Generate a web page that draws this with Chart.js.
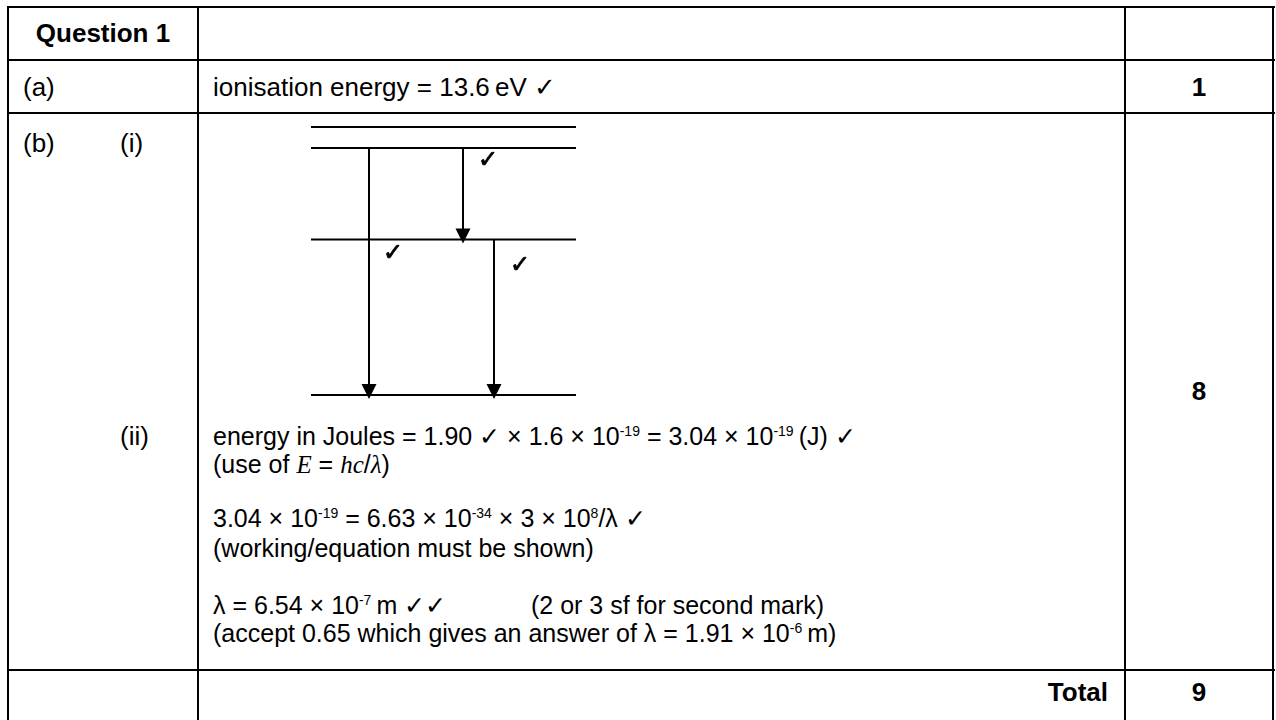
<!DOCTYPE html>
<html>
<head>
<meta charset="utf-8">
<script src="https://cdn.jsdelivr.net/npm/chart.js@4.4.1/dist/chart.umd.min.js"></script>
<style>
  html,body{margin:0;padding:0;background:#fff;}
  body{width:1276px;height:720px;position:relative;overflow:hidden;
       font-family:"Liberation Sans",Arial,sans-serif;font-size:26px;color:#000;}
  .h{position:absolute;height:2px;background:#000;}
  .v{position:absolute;width:2px;background:#000;}
  .t{position:absolute;white-space:nowrap;line-height:30px;height:30px;}
  .p{position:absolute;white-space:pre;font-size:25px;tab-size:318px;-moz-tab-size:318px;}
  .b{font-weight:bold;}
  .c{text-align:center;}
  sup{font-size:14px;vertical-align:0;position:relative;top:-9px;line-height:0;}
  .m{font-family:"Liberation Serif","Times New Roman",serif;font-style:italic;}
  #diagram{position:absolute;left:301px;top:117px;width:285px;height:288px;}
</style>
</head>
<body>
<script>
// ---- energy-level diagram data (relative heights) ----
const levelNames   = ['n1', 'n2', 'n3', 'n4'];
const levelEnergy  = [0, 156, 248, 269];          // height of each level line
const levelSpan    = [0, 265];                    // horizontal extent of the level lines
const transFrom    = [2, 2, 1];                   // index into levelEnergy
const transTo      = [0, 1, 0];
const transX       = [58, 152, 183];              // horizontal place of each arrow
const markText     = ['✓', '✓', '✓'];             // tick beside each arrow
const markX        = [82, 177, 209];
const markY        = [142, 235, 130];
</script>

<!-- table grid -->
<div class="h" style="left:7px;top:6px;width:1268px"></div>
<div class="h" style="left:7px;top:59px;width:1268px"></div>
<div class="h" style="left:7px;top:112px;width:1268px"></div>
<div class="h" style="left:7px;top:669px;width:1268px"></div>
<div class="h" style="left:7px;top:721px;width:1268px"></div>
<div class="v" style="left:7px;top:6px;height:720px"></div>
<div class="v" style="left:197px;top:6px;height:720px"></div>
<div class="v" style="left:1124px;top:6px;height:720px"></div>
<div class="v" style="left:1272px;top:6px;height:720px"></div>

<!-- column 1 -->
<div class="t b c" style="left:9px;width:188px;top:18px">Question 1</div>
<div class="t" style="left:23px;top:72px">(a)</div>
<div class="t" style="left:23px;top:128px">(b)</div>
<div class="t" style="left:120px;top:128px">(i)</div>
<div class="t" style="left:120px;top:421px">(ii)</div>

<!-- column 2 -->
<div class="t" style="left:213px;top:72px">ionisation energy = 13.6&#8201;eV ✓</div>
<div class="p" style="left:213px;top:422px;line-height:28px">energy in Joules = 1.90 ✓ × 1.6 × 10<sup>-19</sup> = 3.04 × 10<sup>-19</sup>&#8201;(J) ✓<br>(use of <span class="m">E</span> = <span class="m">hc</span>/<span class="m">λ</span>)</div>
<div class="p" style="left:213px;top:503px;line-height:30px">3.04 × 10<sup>-19</sup> = 6.63 × 10<sup>-34</sup> × 3 × 10<sup>8</sup>/λ ✓<br>(working/equation must be shown)</div>
<div class="p" style="left:213px;top:591px;line-height:28px">λ = 6.54 × 10<sup>-7</sup>&#8201;m ✓✓&#9;(2 or 3 sf for second mark)<br>(accept 0.65 which gives an answer of λ = 1.91 × 10<sup>-6</sup>&#8201;m)</div>
<div class="t b" style="left:860px;width:248px;text-align:right;top:677px">Total</div>

<!-- column 3 -->
<div class="t b c" style="left:1126px;width:146px;top:72px">1</div>
<div class="t b c" style="left:1126px;width:146px;top:376px">8</div>
<div class="t b c" style="left:1126px;width:146px;top:677px">9</div>

<canvas id="diagram" width="285" height="288"></canvas>

<script>
const datasets = [];
levelEnergy.forEach((e, i) => {
  datasets.push({
    label: levelNames[i],
    data: [{x: levelSpan[0], y: e}, {x: levelSpan[1], y: e}],
    showLine: true, borderColor: '#000', borderWidth: 2,
    pointRadius: 0, clip: false
  });
});
transX.forEach((x, i) => {
  datasets.push({
    label: 'transition ' + (i + 1),
    data: [{x: x, y: levelEnergy[transFrom[i]]}, {x: x, y: levelEnergy[transTo[i]]}],
    showLine: true, borderColor: '#000', borderWidth: 2,
    pointRadius: 0, clip: false
  });
});

const arrowAndTicks = {
  id: 'arrowAndTicks',
  afterDatasetsDraw(chart) {
    const ctx = chart.ctx, xs = chart.scales.x, ys = chart.scales.y;
    ctx.save();
    ctx.fillStyle = '#000';
    ctx.strokeStyle = '#000';
    transX.forEach((x, i) => {
      const px = xs.getPixelForValue(x);
      const py = ys.getPixelForValue(levelEnergy[transTo[i]]) + 4;
      ctx.beginPath();
      ctx.moveTo(px, py);
      ctx.lineTo(px - 7.5, py - 15);
      ctx.lineTo(px + 7.5, py - 15);
      ctx.closePath();
      ctx.fill();
    });
    ctx.font = '24px "DejaVu Sans", sans-serif';
    ctx.textAlign = 'center';
    ctx.textBaseline = 'middle';
    ctx.lineWidth = 0.8;
    markText.forEach((t, i) => {
      const px = xs.getPixelForValue(markX[i]), py = ys.getPixelForValue(markY[i]);
      ctx.fillText(t, px, py);
      ctx.strokeText(t, px, py);
    });
    ctx.restore();
  }
};

new Chart(document.getElementById('diagram'), {
  type: 'scatter',
  data: { datasets },
  options: {
    responsive: false, animation: false, devicePixelRatio: 1,
    layout: { padding: 10 },
    plugins: { legend: { display: false }, tooltip: { enabled: false } },
    scales: {
      x: { type: 'linear', display: false, min: levelSpan[0], max: levelSpan[1] },
      y: { type: 'linear', display: false, min: 0, max: levelEnergy[levelEnergy.length - 1] }
    }
  },
  plugins: [arrowAndTicks]
});
</script>
</body>
</html>
